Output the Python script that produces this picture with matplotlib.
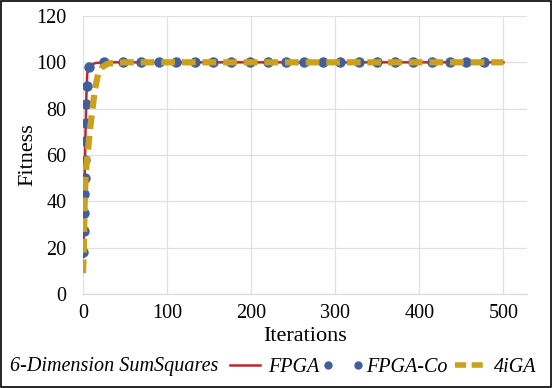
import matplotlib.pyplot as plt
from matplotlib.lines import Line2D
import numpy as np

plt.rcParams['font.family'] = ['Liberation Serif', 'DejaVu Serif']

# FPGA (red solid line)
fpga_x = [0.5, 1, 2, 3, 4, 5, 7, 10, 15, 25, 50, 100, 200, 300, 400, 500]
fpga_y = [16, 30, 50, 70, 85, 95, 98, 99, 99.7, 100, 100, 100, 100, 100, 100, 100]

# FPGA-Co (blue dots)
co_x = [0.5, 1, 1.2, 1.5, 1.8, 2, 2.5, 3, 4, 5, 7,
        25, 47, 69, 90, 111, 133, 155, 176, 198, 220, 241, 263, 285,
        306, 328, 350, 371, 393, 415, 436, 456, 477]
co_y = [18, 27, 35, 43, 50, 58, 66, 74, 82, 90, 98,
        100, 100, 100, 100, 100, 100, 100, 100, 100, 100, 100, 100, 100,
        100, 100, 100, 100, 100, 100, 100, 100, 100]

# 4iGA (gold dashed)
iga_x = [0, 1, 2, 3, 4, 6, 8, 11, 14, 18, 23, 30, 50, 100, 200, 300, 400, 500]
iga_y = [9, 20, 40, 50, 55, 62, 70, 79, 88, 95, 98, 99.5, 100, 100, 100, 100, 100, 100]

red = '#c0262d'
blue = '#3f5f9f'
gold = '#c9a11c'

fig = plt.figure(figsize=(5.53, 3.88), dpi=100)
ax = fig.add_axes([83/553, 1 - 294/388, (527 - 83)/553, (294 - 16)/388])

ax.plot(fpga_x, fpga_y, color=red, lw=1.8, zorder=3)
ax.plot(co_x, co_y, 'o', color=blue, ms=6.5, zorder=4)
ax.plot(iga_x, iga_y, color=gold, lw=4.5, dashes=(2.2, 1.1), zorder=5)

ax.set_xlim(0, 528)
ax.set_ylim(0, 120)
ax.set_xticks([0, 100, 200, 300, 400, 500])
ax.set_yticks(np.arange(0, 121, 20))
ax.grid(True, color='#e0e0e0', lw=0.9)
ax.set_axisbelow(True)
for s in ['top', 'right', 'left']:
    ax.spines[s].set_visible(False)
ax.spines['bottom'].set_color('#d9d9d9')
ax.tick_params(length=0, labelsize=14.5, pad=7)
ax.tick_params(axis='y', pad=12)
ax.set_xlabel('Iterations', fontsize=16, labelpad=3)
ax.set_ylabel('Fitness', fontsize=16, labelpad=-1)

fig.text(10/553, 1 - 367/388, '6-Dimension SumSquares', fontsize=14.5,
         style='italic', va='center', ha='left')
handles = [Line2D([], [], color=red, lw=1.8),
           Line2D([], [], ls='none', marker='o', color=blue, ms=5),
           Line2D([], [], color=gold, lw=4, dashes=(2, 1))]
lg = fig.legend(handles, ['FPGA', 'FPGA-Co', '4iGA'], ncol=3, frameon=False,
                loc='center left', bbox_to_anchor=(224/553, 1 - 367/388),
                prop={'size': 14.5, 'style': 'italic'}, handlelength=2.1,
                numpoints=2, handletextpad=0.1, columnspacing=0.1,
                borderaxespad=0, borderpad=0)

fig.add_artist(plt.Rectangle((0.002, 0.003), 0.994, 0.994, transform=fig.transFigure,
                             fill=False, edgecolor='black', lw=1.2))

fig.savefig('out.png', dpi=100)
